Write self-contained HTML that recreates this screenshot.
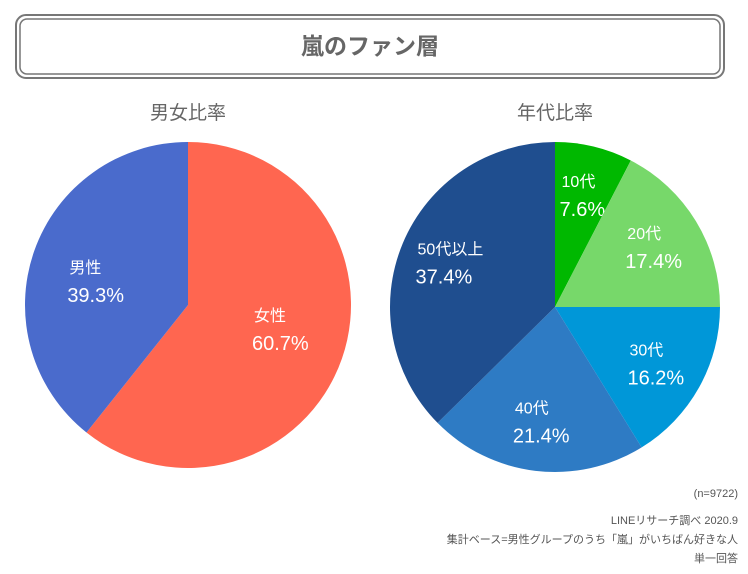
<!DOCTYPE html>
<html><head><meta charset="utf-8">
<style>
body{margin:0;background:#fff;font-family:"Liberation Sans","Noto Sans CJK JP",sans-serif;}
#wrap{position:relative;width:748px;height:574px;overflow:hidden;}
</style></head>
<body>
<div id="wrap">
<svg id="svg" width="748" height="574">
  <rect x="16" y="15" width="708" height="63" rx="10" fill="none" stroke="#777" stroke-width="2"/>
  <rect x="20" y="19" width="700" height="55" rx="7" fill="none" stroke="#777" stroke-width="1.5"/>
  <text x="370" y="54" text-anchor="middle" font-size="23" font-weight="bold" fill="#666" font-family="Liberation Sans, Noto Sans CJK JP, sans-serif">嵐のファン層</text>
  <text x="188" y="119" text-anchor="middle" font-size="19" fill="#666" font-family="Liberation Sans, Noto Sans CJK JP, sans-serif">男女比率</text>
  <text x="555" y="119" text-anchor="middle" font-size="19" fill="#666" font-family="Liberation Sans, Noto Sans CJK JP, sans-serif">年代比率</text>
  <g id="g1"></g>
  <g id="g2"></g>
  <g font-size="11" fill="#555" text-anchor="end" font-family="Liberation Sans, Noto Sans CJK JP, sans-serif">
    <text x="738" y="497">(n=9722)</text>
    <text x="738" y="524">LINEリサーチ調べ 2020.9</text>
    <text x="738" y="543">集計ベース=男性グループのうち「嵐」がいちばん好きな人</text>
    <text x="738" y="562">単一回答</text>
  </g>
</svg>
</div>
<script>
const genderLabels = ["女性","男性"];
const genderValues = [60.7,39.3];
const genderColors = ["#ff6650","#4a6bcc"];
const ageLabels = ["10代","20代","30代","40代","50代以上"];
const ageValues = [7.6,17.4,16.2,21.4,37.4];
const ageColors = ["#00b800","#77d86a","#0097d8","#2e7bc4","#1f4e8f"];
const NS="http://www.w3.org/2000/svg";
function drawPie(gid,cx,cy,r,labels,values,colors,lr,vf,prefix){
  const g=document.getElementById(gid);
  const total=values.reduce((a,b)=>a+b,0);
  let acc=0;
  values.forEach((v,i)=>{
    const a0=acc/total*2*Math.PI; acc+=v; const a1=acc/total*2*Math.PI;
    const x0=cx+r*Math.sin(a0),y0=cy-r*Math.cos(a0),x1=cx+r*Math.sin(a1),y1=cy-r*Math.cos(a1);
    const p=document.createElementNS(NS,"path");
    p.setAttribute("d",`M${cx},${cy}L${x0},${y0}A${r},${r} 0 ${(a1-a0)>Math.PI?1:0} 1 ${x1},${y1}Z`);
    p.setAttribute("fill",colors[i]);
    
    
    g.appendChild(p);
    const am=(a0+a1)/2, mx=cx+r*lr*Math.sin(am), ly=cy-r*lr*Math.cos(am)*vf;
    const t=document.createElementNS(NS,"text");
    t.setAttribute("y",ly-8);
    t.setAttribute("fill","#fff");t.setAttribute("font-size","16");
    t.setAttribute("font-family","Liberation Sans, Noto Sans CJK JP, sans-serif");
    t.textContent=labels[i];
    
    
    g.appendChild(t);
    const t2=document.createElementNS(NS,"text");
    t2.setAttribute("y",ly+21);
    t2.setAttribute("fill","#fff");t2.setAttribute("font-size","20");
    t2.setAttribute("font-family","Liberation Sans, Noto Sans CJK JP, sans-serif");
    t2.textContent=v.toFixed(1)+"%";
    
    
    g.appendChild(t2);
    const w=Math.max(t.getComputedTextLength(),t2.getComputedTextLength());
    const lx=mx-w/2;
    t.setAttribute("x",lx+2);
    t2.setAttribute("x",lx);
  });
}
drawPie("g1",188,305,163,genderLabels,genderValues,genderColors,0.6,0.75,"gender");
drawPie("g2",555,307,165,ageLabels,ageValues,ageColors,0.7,1,"age");
</script>
</body></html>
